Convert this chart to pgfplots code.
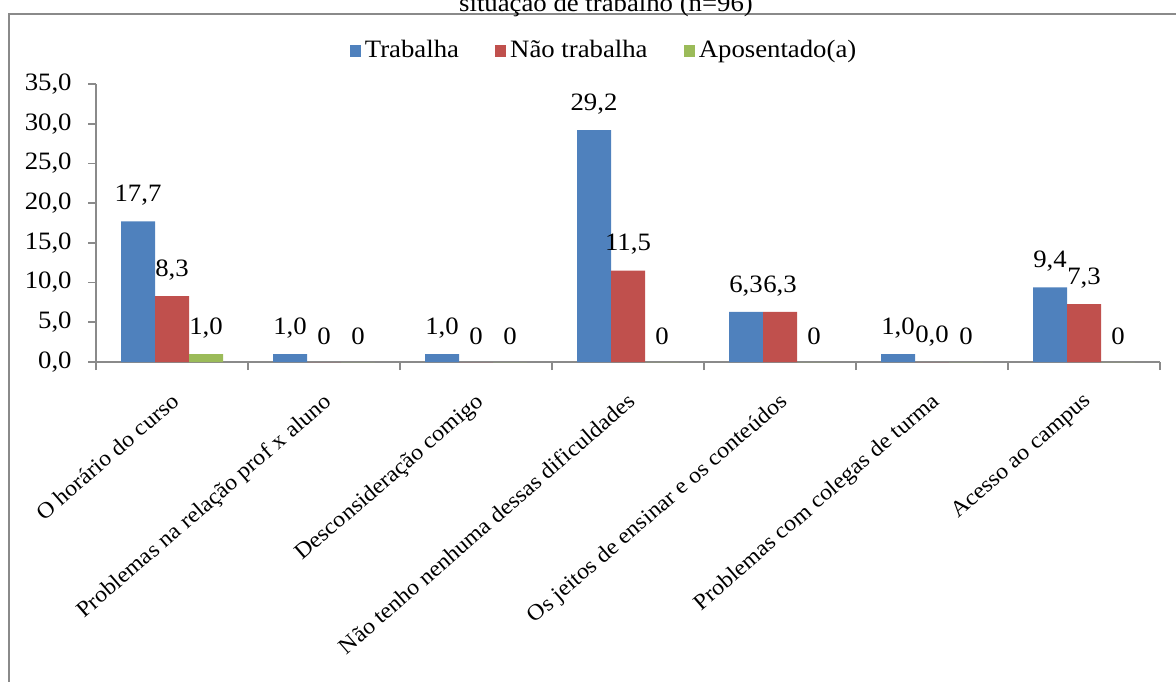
\documentclass[border=0pt]{standalone}
\usepackage{fontspec}
\setmainfont{Liberation Serif}[FakeStretch=1.07]
\usepackage{pgfplots}
\pgfplotsset{compat=1.18}
\usepackage{pgfplotstable}

\definecolor{trab}{HTML}{4F81BD}
\definecolor{naotrab}{HTML}{C0504D}
\definecolor{apos}{HTML}{9BBB59}
\definecolor{framegray}{HTML}{8A8A8A}

\pgfplotstableread{
x y lab
0 17.7 17,7
1 1.0 1,0
2 1.0 1,0
3 29.2 29,2
4 6.3 6,3
5 1.0 1,0
6 9.4 9,4
}\trabalha

\pgfplotstableread{
x y lab
0 8.3 8,3
1 0 0
2 0 0
3 11.5 11,5
4 6.3 6,3
5 0 0,0
6 7.3 7,3
}\naotrabalha

\pgfplotstableread{
x y lab
0 1.0 1,0
1 0 0
2 0 0
3 0 0
4 0 0
5 0 0
6 0 0
}\aposentado

\begin{document}
\fontsize{12.5}{15}\selectfont
\begin{tikzpicture}
\useasboundingbox (0,0) rectangle (588pt,-340.5pt);
\clip (0,0) rectangle (588pt,-340.5pt);
% outer chart frame
\draw[framegray, line width=1.1pt] (4.5pt,-7pt) rectangle (620pt,-380pt);
% title
\node[anchor=base, inner sep=0pt] at (303pt,-5.5pt) {situação de trabalho (n=96)};
\begin{axis}[
  at={(48pt,-181pt)}, anchor=south west,
  scale only axis, width=532pt, height=139pt,
  ybar=0pt, bar width=17pt,
  xmin=-0.5, xmax=6.5, ymin=0, ymax=35,
  ytick={0,5,...,35},
  xtick={0,...,6},
  xticklabels={O horário do curso, Problemas na relação prof x aluno, Desconsideração comigo, Não tenho nenhuma dessas dificuldades, Os jeitos de ensinar e os conteúdos, Problemas com colegas de turma, Acesso ao campus},
  major x tick style={draw=none},
  minor xtick={-0.5,0.5,...,6.5},
  tick align=outside,
  major tick length=4pt, minor tick length=4pt,
  axis x line*=bottom, axis y line*=left,
  axis line style={framegray, line width=0.8pt},
  tick style={framegray, line width=0.8pt},
  yticklabel style={/pgf/number format/use comma, /pgf/number format/fixed,
    /pgf/number format/fixed zerofill, /pgf/number format/precision=1,
    /pgf/number format/assume math mode=true, /tikz/inner sep=2pt, /tikz/xshift=-6pt},
  xticklabel style={xshift=-1pt, yshift=-10.5pt, rotate=41, anchor=north east, inner sep=0pt,
    font=\fontsize{11.2}{13}\selectfont},
  nodes near coords,
  point meta=explicit symbolic,
  every node near coord/.append style={anchor=center, yshift=13pt, inner sep=0pt},
  legend columns=3,
  legend style={at={(0.4784,1.119)}, anchor=center, draw=none, fill=none,
    /tikz/every even column/.append style={column sep=16pt}},
  legend image code/.code={\fill[#1] (0pt,-2.8pt) rectangle (5.6pt,2.8pt);},
]
\addplot[fill=trab, draw=none] table[x=x, y=y, meta=lab] {\trabalha};
\addplot[fill=naotrab, draw=none] table[x=x, y=y, meta=lab] {\naotrabalha};
\addplot[fill=apos, draw=none] table[x=x, y=y, meta=lab] {\aposentado};
\legend{Trabalha, Não trabalha, Aposentado(a)}
\end{axis}
\end{tikzpicture}
\end{document}
